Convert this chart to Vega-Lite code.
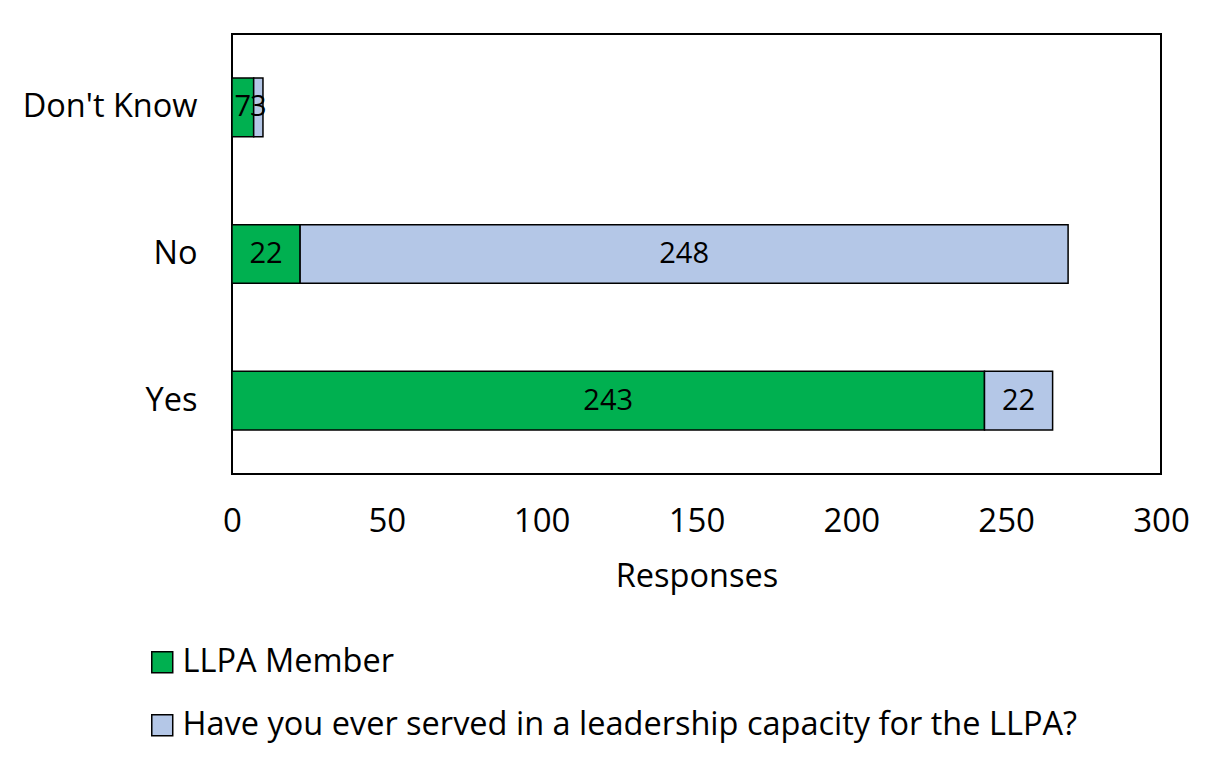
{
  "$schema": "https://vega.github.io/schema/vega-lite/v6.json",
  "width": 929,
  "height": 440,
  "autosize": {"type": "none"},
  "padding": {"left": 232, "top": 34, "right": 54, "bottom": 291},
  "background": "white",
  "config": {
    "font": "Open Sans",
    "view": {"stroke": "black", "strokeWidth": 2},
    "axis": {"labelColor": "black", "titleColor": "black", "labelFont": "Open Sans", "titleFont": "Open Sans", "titleFontWeight": "normal"}
  },
  "data": {
    "values": [
      {"answer": "Don't Know", "series": "LLPA Member", "ord": 1, "value": 7},
      {"answer": "Don't Know", "series": "Have you ever served in a leadership capacity for the LLPA?", "ord": 2, "value": 3},
      {"answer": "No", "series": "LLPA Member", "ord": 1, "value": 22},
      {"answer": "No", "series": "Have you ever served in a leadership capacity for the LLPA?", "ord": 2, "value": 248},
      {"answer": "Yes", "series": "LLPA Member", "ord": 1, "value": 243},
      {"answer": "Yes", "series": "Have you ever served in a leadership capacity for the LLPA?", "ord": 2, "value": 22}
    ]
  },
  "transform": [
    {"stack": "value", "groupby": ["answer"], "sort": [{"field": "ord", "order": "ascending"}], "as": ["v0", "v1"]},
    {"calculate": "(datum.v0 + datum.v1) / 2", "as": "mid"}
  ],
  "encoding": {
    "y": {
      "field": "answer",
      "type": "nominal",
      "sort": ["Don't Know", "No", "Yes"],
      "scale": {"paddingInner": 0.6, "paddingOuter": 0.3},
      "axis": {"title": null, "domain": false, "ticks": false, "labelFontSize": 32.5, "labelPadding": 35}
    }
  },
  "layer": [
    {
      "mark": {"type": "bar", "stroke": "black", "strokeWidth": 1.5},
      "encoding": {
        "x": {
          "field": "v0",
          "type": "quantitative",
          "scale": {"domain": [0, 300], "nice": false},
          "axis": {"title": "Responses", "values": [0, 50, 100, 150, 200, 250, 300], "domain": false, "ticks": false, "grid": false, "labelFlush": false, "labelFontSize": 33, "labelPadding": 31, "titleFontSize": 32.5, "titlePadding": 22}
        },
        "x2": {"field": "v1"},
        "color": {
          "field": "series",
          "type": "nominal",
          "scale": {"domain": ["LLPA Member", "Have you ever served in a leadership capacity for the LLPA?"], "range": ["#00B050", "#B4C7E7"]},
          "legend": {
            "title": null,
            "orient": "none",
            "direction": "vertical",
            "legendX": -86,
            "legendY": 612,
            "symbolType": "square",
            "symbolSize": 440,
            "symbolStrokeColor": "black",
            "symbolStrokeWidth": 1.5,
            "symbolOpacity": 1,
            "labelFontSize": 32.5,
            "labelFont": "Open Sans",
            "labelColor": "black",
            "labelLimit": 1200,
            "labelOffset": 4,
            "rowPadding": 30
          }
        }
      }
    },
    {
      "mark": {"type": "text", "fontSize": 29, "color": "black", "font": "Open Sans"},
      "encoding": {
        "x": {"field": "mid", "type": "quantitative"},
        "text": {"field": "value", "type": "quantitative"}
      }
    }
  ]
}
